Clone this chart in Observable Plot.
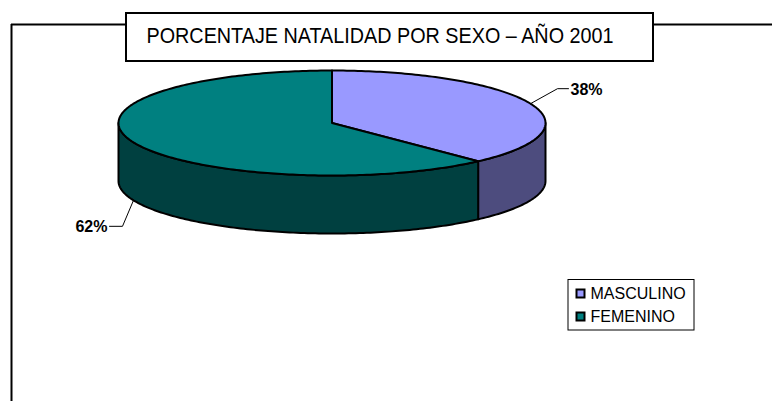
<!DOCTYPE html>
<html>
<head>
<meta charset="utf-8">
<script src="https://cdn.jsdelivr.net/npm/d3@7"></script>
<script src="https://cdn.jsdelivr.net/npm/@observablehq/plot@0.6"></script>
<style>
  html, body { margin: 0; padding: 0; background: #fff; }
  #chart { width: 772px; height: 401px; }
</style>
</head>
<body>
<div id="chart"></div>
<script>
// ---- data ----
const title = "PORCENTAJE NATALIDAD POR SEXO – AÑO 2001";
const categories = ["MASCULINO", "FEMENINO"];
const values = [38, 62];
const valueLabels = ["38%", "62%"];
const topColors = ["#9999FF", "#008080"];
const sideColors = ["#4D4C7E", "#004040"];

// ---- layout ----
const W = 772, H = 401;
const cx = 331.5, cy = 122.5, rx = 213.5, ry = 52.5, depth = 58;
const total = d3.sum(values);

function pt(deg, dy = 0) {
  const t = deg * Math.PI / 180;
  return {x: cx + rx * Math.sin(t), y: cy - ry * Math.cos(t) + dy};
}
function arc(a, b, dy = 0) {
  const n = Math.max(2, Math.ceil(Math.abs(b - a)));
  return d3.range(n + 1).map(i => pt(a + (b - a) * i / n, dy));
}

// slices
let acc = 0;
const slices = values.map((v, i) => {
  const a = acc / total * 360; acc += v;
  const b = acc / total * 360;
  return {i, a, b, mid: (a + b) / 2};
});

const marks = [];
const font = "Liberation Sans, Arial, sans-serif";

// frame lines
marks.push(Plot.ruleY([24], {x1: 11, x2: W, stroke: "#000", strokeWidth: 2}));
marks.push(Plot.ruleX([11], {y1: 24, y2: H, stroke: "#000", strokeWidth: 2}));

// side faces (front half only: 90..270 deg)
slices.forEach(s => {
  const a = Math.max(s.a, 90), b = Math.min(s.b, 270);
  if (b <= a) return;
  const poly = [...arc(a, b), ...arc(b, a, depth)];
  poly.push(poly[0]);
  marks.push(Plot.line(poly, {x: "x", y: "y", fill: sideColors[s.i], stroke: "#000", strokeWidth: 2, strokeLinejoin: "round"}));
});

// top faces
slices.forEach(s => {
  const c = {x: cx, y: cy};
  const poly = [c, ...arc(s.a, s.b), c];
  marks.push(Plot.line(poly, {x: "x", y: "y", fill: topColors[s.i], stroke: "#000", strokeWidth: 2, strokeLinejoin: "round"}));
});

// value labels with leader lines
const leaderGeom = [
  {dx1: 27, dy1: -15, dx2: 11},
  {dx1: -11, dy1: 26, dx2: -13}
];
slices.forEach(s => {
  const front = Math.cos(s.mid * Math.PI / 180) < 0;
  const p0 = pt(s.mid, front ? depth : 0);
  const g = leaderGeom[s.i];
  const p1 = {x: p0.x + g.dx1, y: p0.y + g.dy1};
  const p2 = {x: p1.x + g.dx2, y: p1.y};
  marks.push(Plot.line([p0, p1, p2], {x: "x", y: "y", stroke: "#000", strokeWidth: 1}));
  const right = g.dx2 > 0;
  marks.push(Plot.text([valueLabels[s.i]], {
    x: p2.x + (right ? 2 : -2), y: p2.y + 1, text: d => d,
    textAnchor: right ? "start" : "end", fontWeight: "bold", fontSize: 16,
    fontFamily: font, fill: "#000"
  }));
});

// title box
marks.push(Plot.rect([0], {x1: 126, x2: 653, y1: 13, y2: 61, fill: "#fff", stroke: "#000", strokeWidth: 2}));
marks.push(Plot.text([title], {x: 146, y: 35.5, text: d => d, textAnchor: "start", fontSize: 22,
  fontFamily: font, fill: "#000"}));

// legend
marks.push(Plot.rect([0], {x1: 568, x2: 694, y1: 279.5, y2: 330, fill: "#fff", stroke: "#000", strokeWidth: 1}));
const legendRows = categories.map((c, i) => ({c, i, y: 293.5 + i * 23}));
marks.push(Plot.rect(legendRows, {x1: 576.5, x2: 584.5, y1: d => d.y - 4, y2: d => d.y + 4,
  fill: d => topColors[d.i], stroke: "#000", strokeWidth: 2}));
marks.push(Plot.text(legendRows, {x: 590, y: "y", text: "c", textAnchor: "start", fontSize: 16,
  fontFamily: font, fill: "#000"}));

const plot = Plot.plot({
  width: W, height: H,
  margin: 0,
  x: {type: "linear", domain: [0, W], range: [0, W], axis: null},
  y: {type: "linear", domain: [0, H], range: [0, H], axis: null},
  color: {type: "identity"},
  style: {background: "#fff", overflow: "visible"},
  marks
});
document.getElementById("chart").appendChild(plot);

// compress title horizontally like the original narrow font
plot.querySelectorAll("text").forEach(t => {
  if (t.textContent === title) {
    t.setAttribute("textLength", 467);
    t.setAttribute("lengthAdjust", "spacingAndGlyphs");
  }
});
</script>
</body>
</html>
